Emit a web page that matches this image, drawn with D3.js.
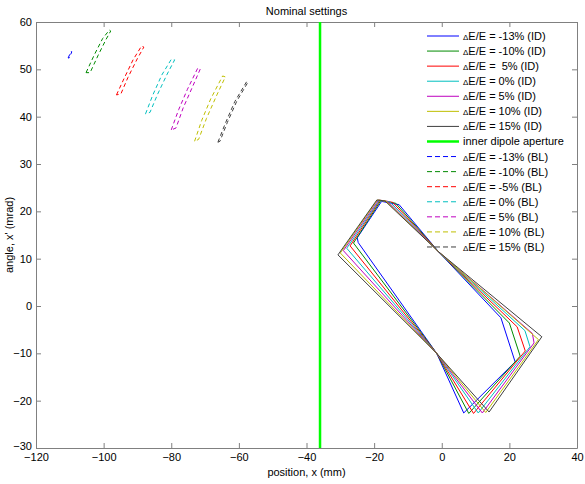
<!DOCTYPE html>
<html>
<head>
<meta charset="utf-8">
<script src="https://cdn.jsdelivr.net/npm/d3@7"></script>
<style>
  body { margin: 0; background: #fff; }
  svg { font-family: "Liberation Sans", Arial, sans-serif; }
</style>
</head>
<body>
<div id="chart"></div>
<script>
// Axis ticks
const xTicks = [-120, -100, -80, -60, -40, -20, 0, 20, 40];
const yTicks = [-30, -20, -10, 0, 10, 20, 30, 40, 50, 60];

// Colours of the seven energy offsets
const seriesColors = ["#0000ff", "#008a00", "#ff0000", "#00bfbf", "#bf00bf", "#bfbf00", "#3f3f3f"];

// Legend labels
const idLabels = ["ΔE/E = -13% (ID)", "ΔE/E = -10% (ID)", "ΔE/E =  5% (ID)", "ΔE/E = 0% (ID)",
                  "ΔE/E = 5% (ID)", "ΔE/E = 10% (ID)", "ΔE/E = 15% (ID)"];
const apertureLabel = "inner dipole aperture";
const blLabels = ["ΔE/E = -13% (BL)", "ΔE/E = -10% (BL)", "ΔE/E = -5% (BL)", "ΔE/E = 0% (BL)",
                  "ΔE/E = 5% (BL)", "ΔE/E = 10% (BL)", "ΔE/E = 15% (BL)"];

// Inner dipole aperture position (mm)
const apertureX = -36;

// Acceptance at the ID (x mm, x' mrad), closed outlines
const idM13 = [[-25.0, 14.4], [-17.8, 22.1], [-12.6, 21.4], [-1.0, 11.5], [17.5, -2.5], [21.7, -11.8], [6.5, -22.6], [-1.5, -10.0], [-24.7, 13.4]];
const idM10 = [[-26.1, 13.3], [-18.0, 22.3], [-13.6, 21.7], [-1.0, 11.5], [20.0, -3.6], [23.2, -10.6], [8.0, -22.7], [-1.5, -10.0]];
const idM5  = [[-27.1, 12.7], [-18.3, 22.3], [-14.5, 21.9], [-1.0, 11.5], [22.3, -4.4], [24.7, -9.5], [9.4, -22.7], [-1.5, -10.0]];
const id0   = [[-28.1, 12.2], [-18.5, 22.3], [-15.3, 22.0], [-1.0, 11.5], [24.6, -5.2], [26.1, -8.6], [10.8, -22.6], [-1.5, -10.0]];
const idP5  = [[-29.1, 11.7], [-18.7, 22.4], [-16.0, 22.1], [-1.0, 11.5], [26.8, -5.8], [27.3, -7.8], [12.0, -22.6], [-1.5, -10.0]];
const idP10 = [[-30.0, 11.2], [-19.0, 22.4], [-16.5, 22.2], [-1.0, 11.5], [28.6, -7.1], [13.0, -22.5], [-1.5, -10.0]];
const idP15 = [[-30.7, 10.8], [-19.2, 22.4], [-16.8, 22.2], [-1.0, 11.5], [29.6, -6.5], [14.0, -22.4], [-1.5, -10.0]];

// Same beams seen at the BL, closed outlines
const blM13 = [[-110.5, 52.4], [-109.6, 53.8], [-109.4, 53.7], [-110.2, 52.4]];
const blM10 = [[-105.2, 49.3], [-102.8, 53.0], [-100.3, 56.5], [-98.3, 58.3], [-97.9, 58.1], [-99.3, 56.3], [-101.6, 53.0], [-104.0, 49.3]];
const blM5  = [[-96.2, 44.6], [-94.0, 48.0], [-91.3, 52.0], [-88.8, 54.9], [-88.1, 54.7], [-90.0, 52.3], [-92.8, 48.3], [-94.9, 44.8]];
const bl0   = [[-87.6, 40.6], [-85.5, 44.5], [-82.8, 48.8], [-80.0, 52.1], [-79.0, 52.0], [-81.2, 49.0], [-84.0, 44.8], [-86.3, 40.9]];
const blP5  = [[-80.0, 37.2], [-77.8, 41.5], [-75.2, 45.8], [-72.2, 50.2], [-71.4, 50.1], [-73.6, 46.5], [-76.5, 41.8], [-78.6, 37.6]];
const blP10 = [[-73.1, 34.8], [-71.0, 39.2], [-68.3, 43.8], [-64.8, 48.6], [-64.0, 48.4], [-66.5, 44.6], [-69.6, 39.6], [-71.9, 35.2]];
const blP15 = [[-66.2, 34.6], [-64.0, 38.6], [-61.2, 43.2], [-57.7, 47.4], [-57.3, 47.3], [-60.6, 43.3], [-63.4, 38.8], [-65.6, 34.8]];

const idSeries = [idM13, idM10, idM5, id0, idP5, idP10, idP15];
const blSeries = [blM13, blM10, blM5, bl0, blP5, blP10, blP15];

const W = 585, H = 484;
const m = { top: 22, right: 8, bottom: 36, left: 36 };

const svg = d3.select("#chart").append("svg")
    .attr("width", W)
    .attr("height", H);

const x = d3.scaleLinear().domain([-120, 40]).range([m.left, W - m.right]);
const y = d3.scaleLinear().domain([-30, 60]).range([H - m.bottom, m.top]);

svg.append("clipPath").attr("id", "plot")
  .append("rect")
    .attr("x", x(-120)).attr("y", y(60))
    .attr("width", x(40) - x(-120)).attr("height", y(-30) - y(60));

// Axes: ticks point inward on all four sides
const axisColor = "#808080";
function styleAxis(g) {
    g.select(".domain").attr("stroke", axisColor);
    g.selectAll(".tick line").attr("stroke", axisColor);
    g.selectAll(".tick text").attr("fill", "#000").attr("font-size", 11);
}

svg.append("g")
    .attr("transform", `translate(0,${y(-30)})`)
    .call(d3.axisBottom(x).tickValues(xTicks).tickSizeInner(-5).tickSizeOuter(0).tickPadding(5))
    .call(styleAxis);

svg.append("g")
    .attr("transform", `translate(0,${y(60)})`)
    .call(d3.axisTop(x).tickValues(xTicks).tickSizeInner(-5).tickSizeOuter(0).tickFormat(""))
    .call(styleAxis);

const yAxisG = svg.append("g")
    .attr("transform", `translate(${x(-120)},0)`)
    .call(d3.axisLeft(y).tickValues(yTicks).tickSizeInner(-5).tickSizeOuter(0).tickPadding(4))
    .call(styleAxis);

// lowest label sits a little higher so it clears the -120 label
yAxisG.selectAll(".tick text").filter(d => d === -30).attr("dy", "0.1em");

svg.append("g")
    .attr("transform", `translate(${x(40)},0)`)
    .call(d3.axisRight(y).tickValues(yTicks).tickSizeInner(-5).tickSizeOuter(0).tickFormat(""))
    .call(styleAxis);

const line = d3.line().x(d => x(d[0])).y(d => y(d[1])).curve(d3.curveLinearClosed);

const plot = svg.append("g").attr("clip-path", "url(#plot)");

// ID outlines (solid)
plot.selectAll(".id")
  .data(idSeries)
  .join("path")
    .attr("class", "id")
    .attr("d", line)
    .attr("fill", "none")
    .attr("stroke", (d, i) => seriesColors[i])
    .attr("stroke-width", 1);

// aperture
plot.append("line")
    .attr("x1", x(apertureX)).attr("x2", x(apertureX))
    .attr("y1", y(60)).attr("y2", y(-30))
    .attr("stroke", "#00ff00")
    .attr("stroke-width", 2.5);

// BL outlines (dashed)
plot.selectAll(".bl")
  .data(blSeries)
  .join("path")
    .attr("class", "bl")
    .attr("d", line)
    .attr("fill", "none")
    .attr("stroke", (d, i) => seriesColors[i])
    .attr("stroke-width", 1)
    .attr("stroke-dasharray", "4,3");

// Legend
const legend = [];
idLabels.forEach((t, i) => legend.push({ text: t, color: seriesColors[i], dash: null, width: 1 }));
legend.push({ text: apertureLabel, color: "#00ff00", dash: null, width: 2.5 });
blLabels.forEach((t, i) => legend.push({ text: t, color: seriesColors[i], dash: "5,3", width: 1 }));

const lg = svg.append("g");
legend.forEach((d, i) => {
    const yy = 36 + i * 15.07;
    lg.append("line")
        .attr("x1", 427).attr("x2", 459)
        .attr("y1", yy).attr("y2", yy)
        .attr("stroke", d.color)
        .attr("stroke-width", d.width)
        .attr("stroke-dasharray", d.dash);
    const t = lg.append("text")
        .attr("x", 463).attr("y", yy + 4)
        .attr("font-size", 11)
        .style("white-space", "pre");
    if (d.text.startsWith("Δ")) {
        t.append("tspan").attr("font-size", 8).text("Δ");
        t.append("tspan").text(d.text.slice(1));
    } else {
        t.text(d.text);
    }
});

// Title and axis labels
svg.append("text")
    .attr("x", (x(-120) + x(40)) / 2).attr("y", 15)
    .attr("text-anchor", "middle")
    .attr("font-size", 11)
    .text("Nominal settings");

svg.append("text")
    .attr("x", (x(-120) + x(40)) / 2).attr("y", 476)
    .attr("text-anchor", "middle")
    .attr("font-size", 11)
    .text("position, x (mm)");

svg.append("text")
    .attr("transform", `translate(13,${(y(60) + y(-30)) / 2}) rotate(-90)`)
    .attr("text-anchor", "middle")
    .attr("font-size", 11)
    .text("angle, x' (mrad)");
</script>
</body>
</html>
